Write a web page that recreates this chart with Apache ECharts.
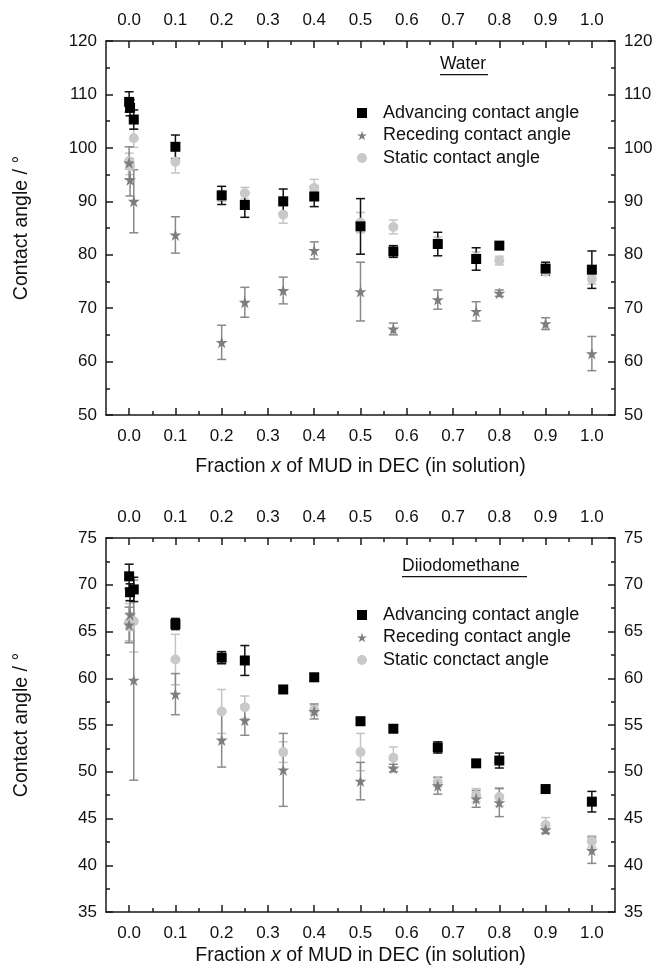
<!DOCTYPE html>
<html>
<head>
<meta charset="utf-8">
<script src="https://cdn.jsdelivr.net/npm/echarts@6/dist/echarts.min.js"></script>
<style>html,body{margin:0;padding:0;background:#fff}#c{width:657px;height:975px}</style>
</head>
<body>
<div id="c"></div>
<script>
// ---------- data ----------
const xTicks = [0, 0.1, 0.2, 0.3, 0.4, 0.5, 0.6, 0.7, 0.8, 0.9, 1.0];
const xMinorTicks = [0.05, 0.15, 0.25, 0.35, 0.45, 0.55, 0.65, 0.75, 0.85, 0.95];

const xWater = [0, 0.002, 0.01, 0.1, 0.2, 0.25, 0.333, 0.4, 0.5, 0.571, 0.667, 0.75, 0.8, 0.9, 1.0];
const waterAdv = [108.6, 107.5, 105.3, 100.2, 91.1, 89.3, 90.0, 90.9, 85.3, 80.6, 82.0, 79.2, 81.7, 77.4, 77.2];
const waterAdvErr = [1.9, 1.5, 1.8, 2.2, 1.7, 2.3, 2.3, 1.9, 5.2, 1.1, 2.2, 2.1, 0.5, 1.2, 3.5];
const waterRec = [97.2, 94.0, 90.0, 83.7, 63.6, 71.1, 73.3, 80.8, 73.1, 66.1, 71.6, 69.4, 72.8, 67.1, 61.5];
const waterRecErr = [3.0, 3.0, 5.9, 3.4, 3.2, 2.8, 2.5, 1.6, 5.5, 1.1, 1.8, 1.8, 0.6, 1.1, 3.2];
const waterSta = [97.5, 96.5, 101.8, 97.4, 91.0, 91.5, 87.5, 92.5, 86.0, 85.2, 82.3, 79.5, 78.9, 76.8, 75.5];
const waterStaErr = [1.5, 1.5, 1.7, 2.1, 1.0, 1.1, 1.6, 1.6, 1.9, 1.3, 1.0, 1.0, 0.8, 0.6, 1.0];

const xDiio = [0, 0.002, 0.01, 0.1, 0.2, 0.25, 0.333, 0.4, 0.5, 0.571, 0.667, 0.75, 0.8, 0.9, 1.0];
const diioAdv = [70.9, 69.2, 69.5, 65.8, 62.2, 61.9, 58.8, 60.1, 55.4, 54.6, 52.6, 50.9, 51.2, 48.15, 46.8];
const diioAdvErr = [1.3, 0.9, 1.3, 0.6, 0.65, 1.6, 0.3, 0.4, 0.4, 0.3, 0.6, 0.3, 0.8, 0.3, 1.1];
const diioRec = [65.7, 66.8, 59.8, 58.3, 53.4, 55.5, 50.2, 56.45, 49.0, 50.4, 48.5, 47.1, 46.7, 43.8, 41.6];
const diioRecErr = [1.9, 1.5, 10.7, 2.2, 2.9, 1.6, 3.9, 0.8, 2.0, 0.4, 0.9, 0.9, 1.5, 0.4, 1.4];
const diioSta = [66.0, 65.5, 66.1, 62.0, 56.45, 56.9, 52.1, 56.6, 52.1, 51.5, 48.9, 47.5, 47.3, 44.3, 42.55];
const diioStaErr = [2.0, 1.5, 3.3, 2.7, 2.35, 1.2, 1.1, 0.5, 2.0, 1.15, 0.5, 0.7, 1.0, 0.8, 0.6];

const legendWater = ['Advancing contact angle', 'Receding contact angle', 'Static contact angle'];
const legendDiio = ['Advancing contact angle', 'Receding contact angle', 'Static conctact angle'];

// ---------- styling ----------
const FONT = '"Liberation Sans", Arial, sans-serif';
const C_ADV = '#000000', C_REC = '#7d7d7d', C_STA = '#c9c9c9';
const E_ADV = '#111111', E_REC = '#8a8a8a', E_STA = '#c4c4c4';
const STAR = 'path://M0,-1L0.2245,-0.309L0.951,-0.309L0.363,0.118L0.588,0.809L0,0.382L-0.588,0.809L-0.363,0.118L-0.951,-0.309L-0.2245,-0.309Z';

const grids = [
  { left: 106, right: 42, top: 41, height: 374 },
  { left: 106, right: 42, top: 538, height: 374 }
];

const xAxes = [], yAxes = [];
function addX(g, nameGap) {
  const base = {
    gridIndex: g, type: 'value', min: -0.05, max: 1.05,
    splitLine: { show: false },
    axisLine: { show: true, onZero: false, lineStyle: { color: '#1a1a1a', width: 1.5 } },
    axisTick: { show: true, inside: true, length: 7, customValues: xTicks, lineStyle: { color: '#1a1a1a', width: 1.5 } },
    axisLabel: { show: true, customValues: xTicks, margin: 13, fontFamily: FONT, fontSize: 17, color: '#111',
      formatter: v => v.toFixed(1) }
  };
  const bottom = Object.assign({}, base, {
    position: 'bottom',
    name: '{n|Fraction }{i|x}{n| of MUD in DEC (in solution)}',
    nameLocation: 'middle', nameGap: nameGap,
    nameTextStyle: { rich: {
      n: { fontFamily: FONT, fontSize: 19.5, color: '#111' },
      i: { fontFamily: FONT, fontSize: 19.5, color: '#111', fontStyle: 'italic' }
    } }
  });
  xAxes.push(bottom);
  xAxes.push(Object.assign({}, base, { position: 'top', axisLabel: Object.assign({}, base.axisLabel, { margin: 12 }) }));
  const minor = {
    gridIndex: g, type: 'value', min: -0.05, max: 1.05,
    splitLine: { show: false }, axisLine: { show: false }, axisLabel: { show: false },
    axisTick: { show: true, inside: true, length: 4, customValues: xMinorTicks, lineStyle: { color: '#1a1a1a', width: 1.5 } }
  };
  xAxes.push(Object.assign({}, minor, { position: 'bottom' }));
  xAxes.push(Object.assign({}, minor, { position: 'top' }));
}
function addY(g, min, max, interval) {
  const base = {
    gridIndex: g, type: 'value', min: min, max: max, interval: interval,
    splitLine: { show: false },
    axisLine: { show: true, onZero: false, lineStyle: { color: '#1a1a1a', width: 1.5 } },
    axisTick: { show: true, inside: true, length: 7, lineStyle: { color: '#1a1a1a', width: 1.5 } },
    minorTick: { show: true, splitNumber: 2, length: 4, lineStyle: { color: '#1a1a1a', width: 1.5 } },
    axisLabel: { margin: 9, fontFamily: FONT, fontSize: 17, color: '#111' }
  };
  yAxes.push(Object.assign({}, base, {
    position: 'left', name: 'Contact angle / °', nameLocation: 'middle', nameGap: 74, nameRotate: 90,
    nameTextStyle: { fontFamily: FONT, fontSize: 19.5, color: '#111' }
  }));
  yAxes.push(Object.assign({}, base, { position: 'right' }));
}
addX(0, 42); addX(1, 34);
addY(0, 50, 120, 10); addY(1, 35, 75, 5);

function errSeries(name, g, xs, ys, es, color) {
  const data = xs.map((x, i) => [x, ys[i] - es[i], ys[i] + es[i]]);
  return {
    name: name, type: 'custom', xAxisIndex: g * 4, yAxisIndex: g * 2, z: 1,
    data: data,
    renderItem: function (params, api) {
      const x = api.value(0);
      const lo = api.coord([x, api.value(1)]);
      const hi = api.coord([x, api.value(2)]);
      const w = 4.5;
      const st = { stroke: color, lineWidth: 1.5 };
      return { type: 'group', children: [
        { type: 'line', shape: { x1: lo[0], y1: lo[1], x2: hi[0], y2: hi[1] }, style: st },
        { type: 'line', shape: { x1: lo[0] - w, y1: lo[1], x2: lo[0] + w, y2: lo[1] }, style: st },
        { type: 'line', shape: { x1: hi[0] - w, y1: hi[1], x2: hi[0] + w, y2: hi[1] }, style: st }
      ] };
    }
  };
}
function ptSeries(name, g, xs, ys, symbol, size, color, z) {
  return {
    name: name, type: 'scatter', xAxisIndex: g * 4, yAxisIndex: g * 2, z: z,
    symbol: symbol, symbolSize: size, itemStyle: { color: color, opacity: 1 },
    data: xs.map((x, i) => [x, ys[i]])
  };
}

const series = [
  errSeries('e1s', 0, xWater, waterSta, waterStaErr, E_STA),
  errSeries('e1r', 0, xWater, waterRec, waterRecErr, E_REC),
  errSeries('e1a', 0, xWater, waterAdv, waterAdvErr, E_ADV),
  ptSeries(legendWater[2], 0, xWater, waterSta, 'circle', 10, C_STA, 2),
  ptSeries(legendWater[1], 0, xWater, waterRec, STAR, 12, C_REC, 3),
  ptSeries(legendWater[0], 0, xWater, waterAdv, 'rect', 10, C_ADV, 4),
  errSeries('e2s', 1, xDiio, diioSta, diioStaErr, E_STA),
  errSeries('e2r', 1, xDiio, diioRec, diioRecErr, E_REC),
  errSeries('e2a', 1, xDiio, diioAdv, diioAdvErr, E_ADV),
  ptSeries(legendDiio[2], 1, xDiio, diioSta, 'circle', 10, C_STA, 2),
  ptSeries(legendDiio[1], 1, xDiio, diioRec, STAR, 12, C_REC, 3),
  ptSeries(legendDiio[0], 1, xDiio, diioAdv, 'rect', 10, C_ADV, 4)
];

function legendAt(top, names) {
  return {
    data: names, orient: 'vertical', left: 352, top: top, itemGap: 4.5,
    itemWidth: 10, itemHeight: 10, selectedMode: false,
    textStyle: { fontFamily: FONT, fontSize: 18, color: '#111', padding: [0, 0, 0, 11] }
  };
}

function underlinedLabel(text, x, y, w) {
  return { type: 'group', left: x, top: y, children: [
    { type: 'text', style: { text: text, fontFamily: FONT, fontSize: 17.5, fill: '#111' } },
    { type: 'rect', shape: { x: 0, y: 19, width: w, height: 1.3 }, style: { fill: '#111' } }
  ] };
}

const chart = echarts.init(document.getElementById('c'), null, { renderer: 'canvas' });
chart.setOption({
  animation: false,
  backgroundColor: '#fff',
  grid: grids,
  xAxis: xAxes,
  yAxis: yAxes,
  legend: [legendAt(99, legendWater), legendAt(601, legendDiio)],
  graphic: [
    underlinedLabel('Water', 440, 55, 48),
    underlinedLabel('Diiodomethane', 402, 557, 125)
  ],
  series: series
});
</script>
</body>
</html>
